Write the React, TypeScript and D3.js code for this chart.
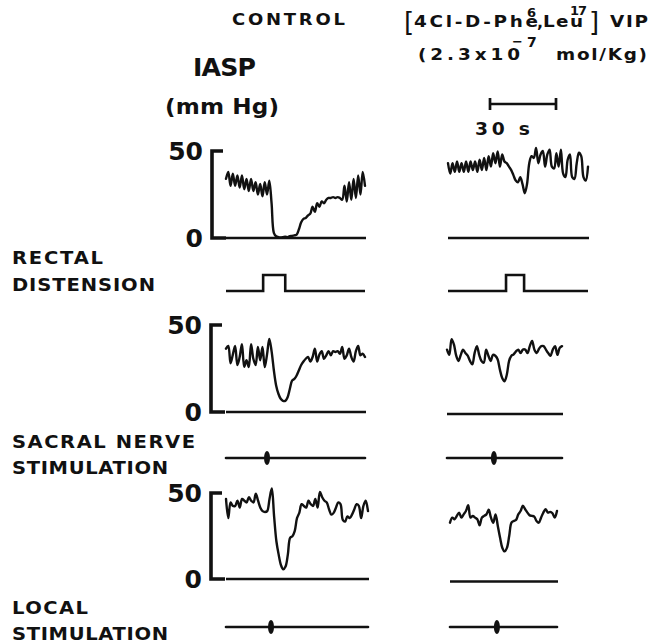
import React from "react";
import * as d3 from "d3";

// ---- data (IASP in mm Hg, one sample per ~1 s) ----
const yTicks = [0, 50];
const scaleBarSeconds = 30;

const controlDistension = [34, 38, 30, 37, 30, 36, 29, 36, 28, 34, 27, 34, 27, 32, 25, 31, 24, 32, 25, 33, 20, 3, 1, 0.5, 0.3, 0.5, 0.8, 0.5, 1, 1.2, 1.5, 2, 5, 9, 11, 11.5, 13, 14, 18, 15, 20, 18, 21, 20, 22, 23, 23, 23.5, 23, 23.5, 23, 22, 30, 21, 32, 22, 34, 23, 36, 25, 38, 30];
const vipDistension = [43, 37, 43, 38, 44, 38, 43, 38, 44, 38, 44, 39, 44, 38, 45, 39, 46, 39, 47, 41, 48.8, 43, 49.8, 41, 48, 44, 43, 41, 39, 36, 33, 32, 35, 31, 25.7, 31, 43, 47, 46, 51.7, 43, 48, 50, 41, 48, 50.8, 41, 40, 48.8, 41, 50.8, 37, 35, 45, 48, 35, 34, 43, 49, 47, 35, 33, 41];
const controlSacral = [36.4, 38, 28, 33, 38, 27, 31.6, 39, 26, 29.7, 25.8, 39, 30.6, 27, 37.4, 29.7, 37.4, 25.8, 33, 42, 35, 24, 15.3, 10.5, 7.6, 6.4, 6.4, 8.4, 13.2, 18, 19, 21, 24, 27, 29, 30.6, 31.6, 29, 31.6, 36.4, 29, 33, 35, 30.6, 32.6, 35, 32.6, 35, 34.5, 35, 33.5, 37.4, 30.6, 32.6, 36.4, 31.6, 29, 35, 38, 32.6, 33.5, 31.6];
const vipSacral = [37, 34, 43, 40, 33.5, 30.5, 34, 37, 35, 33.5, 30.5, 28.5, 35, 39, 34, 30.5, 29.5, 37, 33.5, 30.5, 34, 33.5, 31.5, 25.5, 20.7, 18.8, 22.6, 30.5, 33.5, 34.3, 36, 37, 35, 37, 37, 35, 39, 42, 37, 35, 37.5, 39, 39, 37, 35, 33.5, 37, 39, 34, 38, 39];
const controlLocal = [46, 35, 44, 42, 42, 45, 41, 46, 45, 44, 47, 45, 44, 49, 45, 41, 39, 38.5, 39, 46, 52, 36, 21.7, 14, 8, 5.6, 7.2, 14, 23.7, 24.6, 27.5, 35, 38, 43, 42, 41, 45, 43, 42, 46, 41, 50, 47, 45, 44, 40, 37, 38, 41, 44, 43, 34, 33, 36, 35, 37, 40, 43, 42, 35, 42, 45, 39];
const vipLocal = [33.8, 36.7, 35.8, 37.7, 39.6, 36.7, 38.6, 40.5, 43.9, 36.7, 37.7, 36.7, 35.8, 32.3, 36.7, 37.7, 38.6, 41.2, 36.7, 33.8, 38.6, 31.9, 25.1, 19.3, 17.3, 19.3, 26.1, 33.8, 34.8, 35.4, 38.6, 40.5, 43.5, 41.5, 39.6, 38, 37.7, 37.3, 34.8, 33.8, 36.7, 39.6, 41.5, 39.6, 40, 39.2, 36.7, 40.5];

// stimulus timing, in sample indices of the matching trace
const distensionControl = [16.3, 26];
const distensionVip = [25.7, 33.7];
const sacralStim = [18.0, 20.4]; // control, VIP
const localStim = [19.65, 20.6]; // control, VIP

const INK = "#111";
const FONT = "'DejaVu Sans', 'Liberation Sans', sans-serif";

type Layout = {
  top: number; zero: number; bx: number;
  cx: [number, number]; vx: [number, number]; vZero: number;
  stimY: number;
};

const layouts: Layout[] = [
  { top: 151, zero: 238, bx: 212, cx: [226, 365], vx: [448, 588], vZero: 238, stimY: 291 },
  { top: 325, zero: 412, bx: 211, cx: [226, 365], vx: [447, 562], vZero: 414, stimY: 458 },
  { top: 493, zero: 579, bx: 211, cx: [226, 368], vx: [450, 557], vZero: 581.5, stimY: 627 },
];

const PX_PER_MMHG = 87 / 50;

function Trace({ data, x0, x1, zero }: { data: number[]; x0: number; x1: number; zero: number }) {
  const x = d3.scaleLinear().domain([0, data.length - 1]).range([x0, x1]);
  const y = d3.scaleLinear().domain([0, 50]).range([zero, zero - 50 * PX_PER_MMHG]);
  const line = d3.line<number>().x((_, i) => x(i)).y((d) => y(d)).curve(d3.curveCatmullRom.alpha(0.5));
  return (
    <g>
      <path d={line(data) || ""} fill="none" stroke={INK} strokeWidth={2.4} strokeLinejoin="round" strokeLinecap="round" />
      <line x1={x0} x2={x1 + 1} y1={zero} y2={zero} stroke={INK} strokeWidth={2.7} />
    </g>
  );
}

function Pulse({ n, x0, x1, y0, on }: { n: number; x0: number; x1: number; y0: number; on: number[] }) {
  const x = d3.scaleLinear().domain([0, n - 1]).range([x0, x1]);
  const y = d3.scaleLinear().domain([0, 1]).range([y0, y0 - 16]);
  const pts: [number, number][] = [[0, 0], [on[0], 1], [on[1], 0], [n - 1, 0]];
  const line = d3.line<[number, number]>().x((d) => x(d[0])).y((d) => y(d[1])).curve(d3.curveStepAfter);
  return <path d={line(pts) || ""} fill="none" stroke={INK} strokeWidth={2.6} strokeLinejoin="miter" />;
}

function Mark({ n, x0, x1, y0, at }: { n: number; x0: number; x1: number; y0: number; at: number }) {
  const x = d3.scaleLinear().domain([0, n - 1]).range([x0, x1]);
  return (
    <g>
      <line x1={x0} x2={x1} y1={y0} y2={y0} stroke={INK} strokeWidth={2.6} strokeLinecap="round" />
      <ellipse cx={x(at)} cy={y0} rx={3} ry={7} fill={INK} />
    </g>
  );
}

function Axis({ l }: { l: Layout }) {
  const y = d3.scaleLinear().domain([0, 50]).range([l.zero, l.top]);
  return (
    <g>
      <path d={`M${l.bx + 11},${y(50)} H${l.bx} V${y(0)} H${l.bx + 14}`} fill="none" stroke={INK} strokeWidth={3.6} />
      {yTicks.map((t) => (
        <text key={t} x={l.bx - 9} y={y(t) + 9} textAnchor="end" fontSize={25} fontWeight="bold" fontFamily={FONT} fill={INK}>
          {t}
        </text>
      ))}
    </g>
  );
}

// wide, letter-spaced bold text (stretched horizontally like the original lettering)
function Label({ x, y, text, len, size = 17, sx = 1.15 }: { x: number; y: number; text: string; len: number; size?: number; sx?: number }) {
  return (
    <text
      transform={`translate(${x},${y}) scale(${sx},1)`}
      fontSize={size}
      fontWeight="bold"
      fontFamily={FONT}
      fill={INK}
      textLength={len / sx}
      lengthAdjust="spacing"
    >
      {text}
    </text>
  );
}

function Small({ x, y, text, size = 13 }: { x: number; y: number; text: string; size?: number }) {
  return (
    <text x={x} y={y} fontSize={size} fontWeight="bold" fontFamily={FONT} fill={INK}>
      {text}
    </text>
  );
}

export default function App() {
  const [l1, l2, l3] = layouts;
  const bar = d3.scaleLinear().domain([0, scaleBarSeconds]).range([490, 556]);
  return (
    <div style={{ position: "fixed", left: 0, top: 0, width: 651, height: 641, background: "#fff" }}>
      <svg width={651} height={641} viewBox="0 0 651 641" style={{ display: "block" }}>
        <rect width={651} height={641} fill="#fff" />

        {/* headers */}
        <Label x={232} y={25} text="CONTROL" len={113} size={15} sx={1.2} />
        <text x={404} y={31} fontSize={26} fontFamily={FONT} fill={INK}>[</text>
        <Label x={414} y={27} text="4Cl-D-Phe" len={124} size={16} />
        <Small x={527} y={17} text="6" />
        <Small x={537} y={28} text="," size={16} />
        <Label x={543} y={27} text="Leu" len={40} size={16} />
        <text x={570} y={15} fontSize={13} fontWeight="bold" fontFamily={FONT} fill={INK} textLength={17} lengthAdjust="spacing">17</text>
        <text x={589} y={31} fontSize={26} fontFamily={FONT} fill={INK}>]</text>
        <Label x={610} y={27} text="VIP" len={38} size={16} />

        <Label x={418} y={60} text="(2.3x10" len={102} size={16} />
        <Small x={512} y={46} text="−" />
        <Small x={527} y={47} text="7" size={14} />
        <Label x={556} y={60} text="mol/Kg)" len={91} size={16} />

        <Label x={193} y={76} text="IASP" len={63} size={24} sx={1.05} />
        <Label x={165} y={114} text="(mm Hg)" len={114} size={22} sx={1.05} />

        {/* time scale bar */}
        <g stroke={INK} strokeWidth={2.7}>
          <line x1={bar(0)} x2={bar(scaleBarSeconds)} y1={104} y2={104} />
          <line x1={bar(0)} x2={bar(0)} y1={98} y2={110} />
          <line x1={bar(scaleBarSeconds)} x2={bar(scaleBarSeconds)} y1={98} y2={110} />
        </g>
        <Label x={475} y={135} text="30 s" len={55} size={17} sx={1.1} />

        {/* left labels */}
        <Label x={12} y={264} text="RECTAL" len={91} />
        <Label x={12} y={291} text="DISTENSION" len={143} />
        <Label x={12} y={448} text="SACRAL NERVE" len={183} />
        <Label x={12} y={474} text="STIMULATION" len={156} />
        <Label x={12} y={614} text="LOCAL" len={76} />
        <Label x={12} y={640} text="STIMULATION" len={156} />

        {/* panel 1: rectal distension */}
        <Axis l={l1} />
        <Trace data={controlDistension} x0={l1.cx[0]} x1={l1.cx[1]} zero={l1.zero} />
        <Trace data={vipDistension} x0={l1.vx[0]} x1={l1.vx[1]} zero={l1.vZero} />
        <Pulse n={controlDistension.length} x0={l1.cx[0]} x1={l1.cx[1]} y0={l1.stimY} on={distensionControl} />
        <Pulse n={vipDistension.length} x0={l1.vx[0]} x1={l1.vx[1]} y0={l1.stimY} on={distensionVip} />

        {/* panel 2: sacral nerve stimulation */}
        <Axis l={l2} />
        <Trace data={controlSacral} x0={l2.cx[0]} x1={l2.cx[1]} zero={l2.zero} />
        <Trace data={vipSacral} x0={l2.vx[0]} x1={l2.vx[1]} zero={l2.vZero} />
        <Mark n={controlSacral.length} x0={l2.cx[0]} x1={l2.cx[1]} y0={l2.stimY} at={sacralStim[0]} />
        <Mark n={vipSacral.length} x0={l2.vx[0]} x1={l2.vx[1]} y0={l2.stimY} at={sacralStim[1]} />

        {/* panel 3: local stimulation */}
        <Axis l={l3} />
        <Trace data={controlLocal} x0={l3.cx[0]} x1={l3.cx[1]} zero={l3.zero} />
        <Trace data={vipLocal} x0={l3.vx[0]} x1={l3.vx[1]} zero={l3.vZero} />
        <Mark n={controlLocal.length} x0={l3.cx[0]} x1={l3.cx[1]} y0={l3.stimY} at={localStim[0]} />
        <Mark n={vipLocal.length} x0={l3.vx[0]} x1={l3.vx[1]} y0={l3.stimY} at={localStim[1]} />
      </svg>
    </div>
  );
}
